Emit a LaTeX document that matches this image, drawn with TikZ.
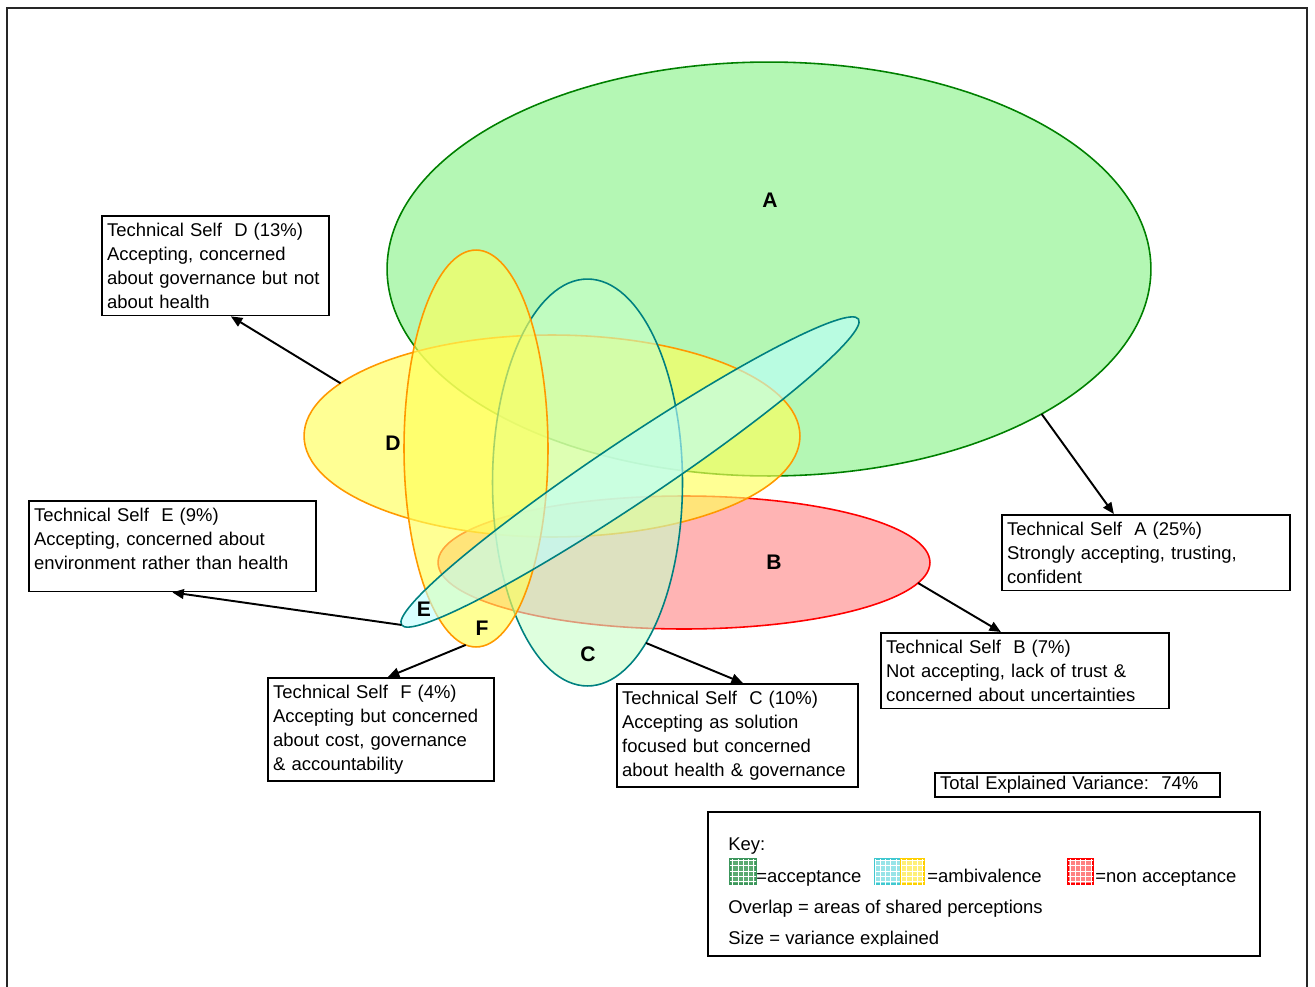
\documentclass[tikz,border=0pt]{standalone}
\usepackage{fontspec}
\setmainfont{Liberation Sans}
\usetikzlibrary{shapes.geometric,patterns,arrows.meta}

\definecolor{accfill}{RGB}{130,242,130}
\definecolor{accedge}{RGB}{0,128,0}
\definecolor{ambfill}{RGB}{255,255,90}
\definecolor{ambedge}{RGB}{255,153,0}
\definecolor{nonfill}{RGB}{255,130,130}
\definecolor{nonedge}{RGB}{255,0,0}
\definecolor{solfill}{RGB}{200,255,200}
\definecolor{envfill}{RGB}{190,255,255}
\definecolor{tealedge}{RGB}{0,128,128}
\definecolor{keygreen}{RGB}{90,170,112}
\definecolor{keygreenedge}{RGB}{60,150,92}
\definecolor{keycyan}{RGB}{150,228,232}
\definecolor{keycyanedge}{RGB}{64,200,208}
\definecolor{keyyellow}{RGB}{255,240,120}
\definecolor{keyyellowedge}{RGB}{255,208,0}
\definecolor{keyred}{RGB}{255,130,130}

\newcommand\boxfont{\fontsize{10.5}{13.66}\selectfont}

\tikzset{
  cluster/.style={ellipse, draw, line width=0.9pt, inner sep=0pt, outer sep=0pt, fill opacity=0.6},
  letter/.style={font=\fontsize{12}{14}\selectfont\bfseries},
  selfbox/.style={draw, line width=1pt, anchor=north west, align=left, inner xsep=3pt, inner ysep=4pt, font=\boxfont},
  keytext/.style={anchor=base west, inner sep=0pt, font=\boxfont},
  swatch/.style={draw, line width=0.8pt, inner sep=0pt, minimum height=0.5cm, postaction={pattern=grid, pattern color=white}},
  pointer/.style={->, line width=1.1pt}
}

\begin{document}
\begin{tikzpicture}[x=0.02cm,y=-0.02cm,>={Triangle[length=6.5pt,width=5.5pt]}]
\clip (0,0) rectangle (1315,987);
\draw[line width=1.2pt, black!85] (7,8) rectangle (1307,1010);

% technical selves
\node[cluster, fill=accfill, draw=accedge, minimum width=15.28cm, minimum height=8.28cm] (ellA) at (769,269) {};
\node[cluster, fill=nonfill, draw=nonedge, minimum width=9.84cm, minimum height=2.66cm] (ellB) at (684,562.5) {};
\node[cluster, fill=ambfill, draw=ambedge, fill opacity=0.65, minimum width=9.92cm, minimum height=4.04cm] (ellD) at (552,436) {};
\node[cluster, fill=solfill, draw=tealedge, minimum width=3.8cm, minimum height=8.14cm] (ellC) at (587.5,482.5) {};
\node[cluster, fill=ambfill, draw=ambedge, fill opacity=0.65, minimum width=2.88cm, minimum height=7.94cm] (ellF) at (476,448.5) {};
\node[cluster, fill=envfill, draw=tealedge, minimum width=11cm, minimum height=1.24cm, rotate=33.8] (ellE) at (630,472) {};

\node[letter] (lblA) at (770,200) {A};
\node[letter] (lblB) at (774,562) {B};
\node[letter] (lblC) at (588,654) {C};
\node[letter] (lblD) at (393,443) {D};
\node[letter] (lblE) at (424,609) {E};
\node[letter] (lblF) at (482,628) {F};

% descriptions
\node[selfbox, text width=4.33cm] (boxD) at (101,215) {Technical Self\ \ D (13\%)\\Accepting, concerned\\about governance but not\\about health};
\node[selfbox, text width=5.55cm] (boxA) at (1001,514) {Technical Self\ \ A (25\%)\\Strongly accepting, trusting,\\confident};
\node[selfbox, text width=5.53cm] (boxE) at (28,500) {Technical Self\ \ E (9\%)\\Accepting, concerned about\\environment rather than health\\[-5pt]\mbox{}};
\node[selfbox, text width=5.55cm] (boxB) at (880,632) {Technical Self\ \ B (7\%)\\Not accepting, lack of trust \&\\concerned about uncertainties};
\node[selfbox, text width=4.31cm] (boxF) at (267,677) {Technical Self\ \ F (4\%)\\Accepting but concerned\\about cost, governance\\\& accountability};
\node[selfbox, text width=4.61cm] (boxC) at (616,683) {Technical Self\ \ C (10\%)\\Accepting as solution\\focused but concerned\\about health \& governance};
\node[selfbox, inner ysep=2pt, text width=5.49cm] (boxTotal) at (934,772) {Total Explained Variance:\ \ 74\%};

\draw[pointer] (ellA.-28) -- ([xshift=-0.64cm]boxA.north);
\draw[pointer] (ellD.166) -- ([xshift=0.31cm]boxD.south);
\draw[pointer] (ellE.west) -- (boxE.south);
\draw[pointer] (ellB.-5) -- ([xshift=-0.48cm]boxB.north);
\draw[pointer] (ellF.-93) -- ([xshift=0.14cm]boxF.north);
\draw[pointer] (ellC.-70) -- ([xshift=0.11cm]boxC.north);

% key
\node[draw, line width=1pt, anchor=north west, inner sep=0pt, minimum width=11.04cm, minimum height=2.88cm] (keybox) at (707,811) {};
\begin{scope}
\clip (707,811) rectangle (1259,945);
\node[keytext] (keyhead) at (728,850) {Key:};
\node[swatch, fill=keygreen, draw=keygreenedge, minimum width=0.52cm] (swAcc) at (743,871.5) {};
\node[keytext] (txtAcc) at (756,882) {=acceptance};
\node[swatch, fill=keycyan, draw=keycyanedge, minimum width=0.52cm] (swAmbC) at (888,871.5) {};
\node[swatch, fill=keyyellow, draw=keyyellowedge, minimum width=0.46cm] (swAmbY) at (912.5,871.5) {};
\node[keytext] (txtAmb) at (927,882) {=ambivalence};
\node[swatch, fill=keyred, draw=nonedge, minimum width=0.5cm] (swNon) at (1080.5,871.5) {};
\node[keytext] (txtNon) at (1095,882) {=non acceptance};
\node[keytext] (txtOverlap) at (728,913) {Overlap = areas of shared perceptions};
\node[keytext] (txtSize) at (728,944) {Size = variance explained};
\end{scope}
\end{tikzpicture}
\end{document}
